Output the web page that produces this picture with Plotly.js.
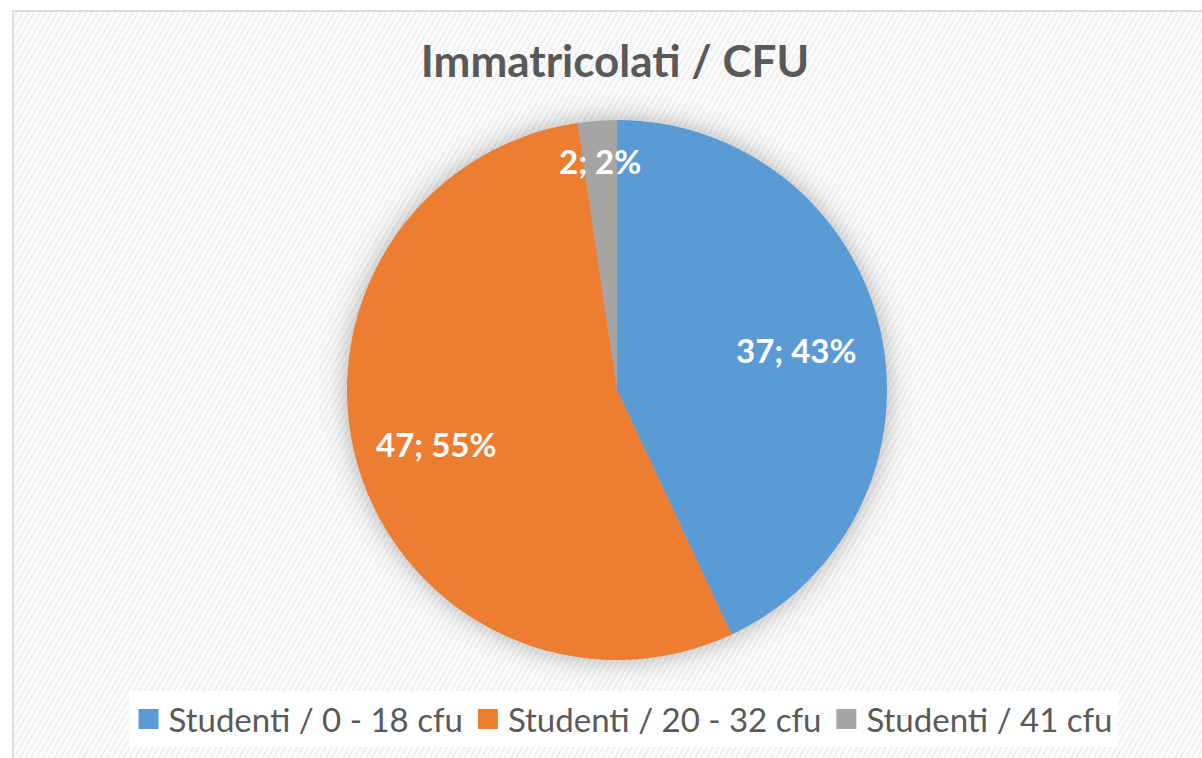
<!DOCTYPE html>
<html>
<head>
<meta charset="utf-8">
<script src="https://cdn.plot.ly/plotly-3.0.1.min.js"></script>
<style>
  html, body { margin: 0; padding: 0; background: #ffffff; }
  #wrap { position: relative; width: 1202px; height: 758px; overflow: hidden; }
  #bg {
    position: absolute; left: 12px; top: 10px; width: 1200px; height: 760px;
    border: 2px solid #dcdcdc; box-sizing: border-box;
    background-color: #fafafa;
    background-image: repeating-linear-gradient(-60deg, #f0f0f0 0px, #f0f0f0 2px, #fcfcfc 2px, #fcfcfc 5px);
  }
  #chart { position: absolute; left: 0; top: 0; width: 1202px; height: 758px; }
  #chart .pielayer .trace { filter: drop-shadow(0 0 13px rgba(0,0,0,0.3)); }
</style>
</head>
<body>
<div id="wrap">
  <div id="bg"></div>
  <div id="chart"></div>
</div>
<script>
const categories = ["Studenti / 0 - 18 cfu", "Studenti / 20 - 32 cfu", "Studenti / 41 cfu"];
const values = [37, 47, 2];
const colors = ["#5B9BD5", "#ED7D31", "#A5A5A5"];

const W = 1202, H = 758;
const cx = 617, cy = 390, R = 270;
const labelRadiusFrac = [0.68, 0.70, 0.85];

const total = values.reduce((a, b) => a + b, 0);
const annotations = [];
let cum = 0;
values.forEach((v, i) => {
  const mid = (cum + v / 2) / total * 2 * Math.PI; // clockwise from 12 o'clock
  cum += v;
  const r = R * labelRadiusFrac[i];
  const px = cx + r * Math.sin(mid);
  const py = cy - r * Math.cos(mid);
  annotations.push({
    x: px / W, y: 1 - py / H, xref: "paper", yref: "paper",
    text: v + "; " + Math.round(v / total * 100) + "%",
    showarrow: false,
    font: { family: "Lato, 'Open Sans', sans-serif", size: 33, color: "#ffffff", weight: "bold" },
    xanchor: "center", yanchor: "middle"
  });
});

const data = [{
  type: "pie",
  labels: categories,
  values: values,
  marker: { colors: colors, line: { width: 0 } },
  sort: false,
  direction: "clockwise",
  rotation: 0,
  textinfo: "none",
  hoverinfo: "label+value+percent",
  domain: { x: [(cx - R) / W, (cx + R) / W], y: [(H - cy - R) / H, (H - cy + R) / H] }
}];

const layout = {
  width: W, height: H,
  margin: { l: 0, r: 0, t: 0, b: 0 },
  paper_bgcolor: "rgba(0,0,0,0)",
  plot_bgcolor: "rgba(0,0,0,0)",
  title: {
    text: "<b>Immatricolati / CFU</b>",
    font: { family: "Lato, 'Open Sans', sans-serif", size: 44, color: "#595959" },
    x: 615 / W, xanchor: "center",
    y: 1 - 62 / H, yanchor: "middle", yref: "container"
  },
  showlegend: true,
  legend: {
    orientation: "h",
    x: 623 / W, xanchor: "center",
    y: 1 - 719 / H, yanchor: "middle",
    bgcolor: "#ffffff",
    borderwidth: 0,
    font: { family: "Lato, 'Open Sans', sans-serif", size: 33, color: "#595959" },
    itemwidth: 30,
    traceorder: "normal"
  },
  annotations: annotations
};

Plotly.newPlot("chart", data, layout, { displayModeBar: false, staticPlot: true }).then(function () {
  document.querySelectorAll("#chart path.legendpie").forEach(function (p) {
    p.setAttribute("d", "M10,10H-10V-10H10Z");
  });
});
</script>
</body>
</html>
